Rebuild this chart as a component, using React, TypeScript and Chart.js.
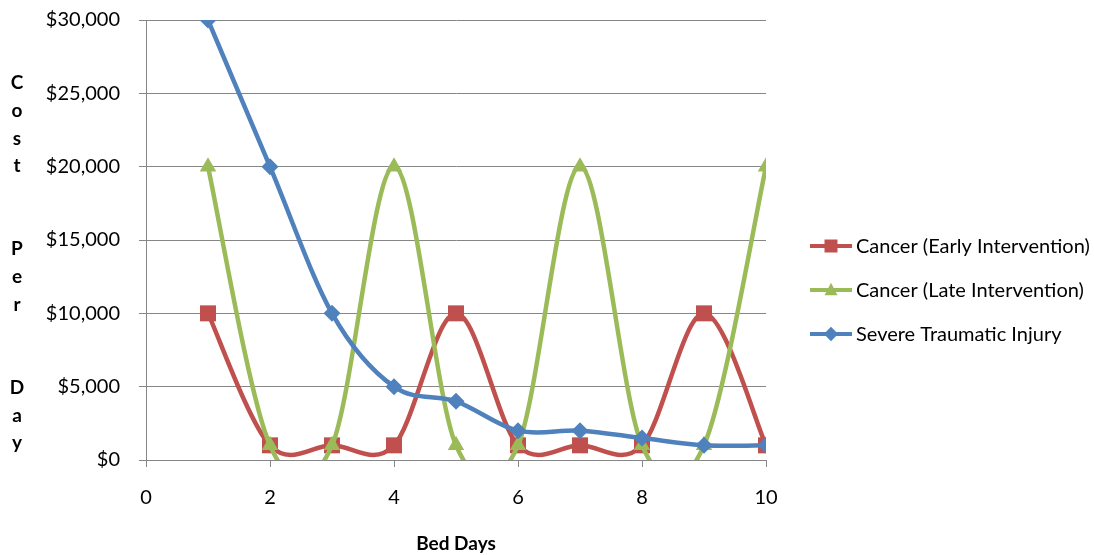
import React, { useEffect, useRef } from 'react';
import { Chart, registerables } from 'chart.js';

Chart.register(...registerables);

const bedDays = [1, 2, 3, 4, 5, 6, 7, 8, 9, 10];
const cancerEarly = [10000, 1000, 1000, 1000, 10000, 1000, 1000, 1000, 10000, 1000];
const cancerLate = [20000, 1000, 1000, 20000, 1000, 1000, 20000, 1000, 1000, 20000];
const traumaticInjury = [30000, 20000, 10000, 5000, 4000, 2000, 2000, 1500, 1000, 1000];
const seriesNames = ['Cancer (Early Intervention)', 'Cancer (Late Intervention)', 'Severe Traumatic Injury'];
const seriesColors = ['#C0504D', '#9BBB59', '#4F81BD'];
const seriesMarkers = ['rect', 'triangle', 'rectRot'];
const yTitleLetters = ['C', 'o', 's', 't', '', '', 'P', 'e', 'r', '', '', 'D', 'a', 'y'];
const xTitleText = 'Bed Days';

const FONT = 'Lato, "Open Sans", sans-serif';

function drawMarker(ctx: CanvasRenderingContext2D, style: string, x: number, y: number, r: number, color: string) {
  ctx.save();
  ctx.fillStyle = color;
  ctx.beginPath();
  if (style === 'rect') {
    ctx.rect(x - r, y - r, 2 * r, 2 * r);
  } else if (style === 'triangle') {
    ctx.moveTo(x, y - r * 1.1);
    ctx.lineTo(x + r, y + r * 0.8);
    ctx.lineTo(x - r, y + r * 0.8);
    ctx.closePath();
  } else {
    ctx.moveTo(x, y - r * 1.1);
    ctx.lineTo(x + r * 1.1, y);
    ctx.lineTo(x, y + r * 1.1);
    ctx.lineTo(x - r * 1.1, y);
    ctx.closePath();
  }
  ctx.fill();
  ctx.restore();
}

// Excel-style smoothing: uniform Catmull-Rom control points (1/6 of neighbour span)
const smoothPlugin = {
  id: 'excelSmooth',
  beforeDatasetsDraw(chart: any) {
    chart.getSortedVisibleDatasetMetas().forEach((meta: any) => {
      const pts = meta.data;
      const n = pts.length;
      for (let i = 0; i < n; i++) {
        const p = pts[i];
        const prev = pts[i - 1] || p;
        const next = pts[i + 1] || p;
        const dx = (next.x - prev.x) / 6;
        const dy = (next.y - prev.y) / 6;
        p.cp1x = p.x - dx;
        p.cp1y = p.y - dy;
        p.cp2x = p.x + dx;
        p.cp2y = p.y + dy;
      }
      if (meta.dataset) {
        meta.dataset._pointsUpdated = true;
        meta.dataset._path = undefined;
      }
    });
  },
};

const decorPlugin = {
  id: 'decor',
  afterDraw(chart: any) {
    const ctx: CanvasRenderingContext2D = chart.ctx;
    const area = chart.chartArea;
    // stacked y-axis title
    ctx.save();
    ctx.font = `bold 19px ${FONT}`;
    ctx.fillStyle = '#000';
    ctx.textAlign = 'center';
    ctx.textBaseline = 'middle';
    const step = 27.7;
    const top = area.top + 63;
    yTitleLetters.forEach((ch, i) => {
      if (ch) ctx.fillText(ch, 17, top + i * step);
    });
    ctx.restore();

    // legend
    ctx.save();
    const lx = area.right + 44;
    const ly = area.top + 226;
    ctx.font = `20px ${FONT}`;
    ctx.textBaseline = 'middle';
    ctx.textAlign = 'left';
    seriesNames.forEach((name, i) => {
      const y = ly + i * 44;
      ctx.strokeStyle = seriesColors[i];
      ctx.lineWidth = 4;
      ctx.beginPath();
      ctx.moveTo(lx, y);
      ctx.lineTo(lx + 42, y);
      ctx.stroke();
      drawMarker(ctx, seriesMarkers[i], lx + 21, y, 6.5, seriesColors[i]);
      ctx.fillStyle = '#000';
      ctx.fillText(name, lx + 46, y + 1);
    });
    ctx.restore();
  },
};

export default function App() {
  const canvasRef = useRef<HTMLCanvasElement | null>(null);

  useEffect(() => {
    if (!canvasRef.current) return;
    const seriesValues = [cancerEarly, cancerLate, traumaticInjury];
    const radii = [11.3, 9.5, 8.5];
    const orders = [2, 1, 0];
    const chart = new Chart(canvasRef.current, {
      type: 'line',
      data: {
        datasets: seriesNames.map((name, i) => ({
          label: name,
          data: bedDays.map((d, j) => ({ x: d, y: seriesValues[i][j] })),
          borderColor: seriesColors[i],
          backgroundColor: seriesColors[i],
          pointBackgroundColor: seriesColors[i],
          pointBorderColor: seriesColors[i],
          pointBorderWidth: 0,
          pointStyle: seriesMarkers[i] as any,
          pointRadius: radii[i],
          pointHoverRadius: radii[i],
          borderWidth: 4.5,
          tension: 0.4,
          capBezierPoints: false,
          cubicInterpolationMode: 'default' as const,
          fill: false,
          order: orders[i],
        })),
      },
      options: {
        animation: false,
        responsive: false,
        maintainAspectRatio: false,
        layout: { padding: { top: 20, right: 328, left: 0, bottom: 0 } },
        plugins: {
          legend: { display: false },
          tooltip: { enabled: false },
          title: { display: false },
        },
        scales: {
          x: {
            type: 'linear',
            min: 0,
            max: 10,
            ticks: {
              stepSize: 2,
              color: '#000',
              font: { family: FONT, size: 20 },
              padding: 19,
              maxRotation: 0,
            },
            grid: {
              drawOnChartArea: false,
              drawTicks: true,
              tickLength: 7,
              color: '#868686',
              lineWidth: 1,
            },
            border: { color: '#868686', width: 1 },
            title: {
              display: true,
              text: xTitleText,
              color: '#000',
              font: { family: FONT, size: 19, weight: 'bold' },
              padding: { top: 0, bottom: 0 },
            },
            afterFit(scale: any) {
              scale.height = 95;
              scale.paddingLeft = 0;
              scale.paddingRight = 0;
            },
          },
          y: {
            type: 'linear',
            min: 0,
            max: 30000,
            ticks: {
              stepSize: 5000,
              color: '#000',
              font: { family: FONT, size: 20 },
              padding: 19,
              callback: (v: any) => '$' + Number(v).toLocaleString('en-US'),
            },
            grid: {
              drawTicks: true,
              tickLength: 7,
              color: '#868686',
              lineWidth: 1,
            },
            border: { color: '#868686', width: 1 },
            afterFit(scale: any) {
              scale.width = 146;
              scale.paddingTop = 0;
              scale.paddingBottom = 0;
            },
          },
        },
      },
      plugins: [smoothPlugin, decorPlugin],
    });
    return () => chart.destroy();
  }, []);

  return (
    <div style={{ position: 'fixed', left: 0, top: 0, width: 1094, height: 555, background: '#fff' }}>
      <canvas ref={canvasRef} width={1094} height={555} />
    </div>
  );
}
